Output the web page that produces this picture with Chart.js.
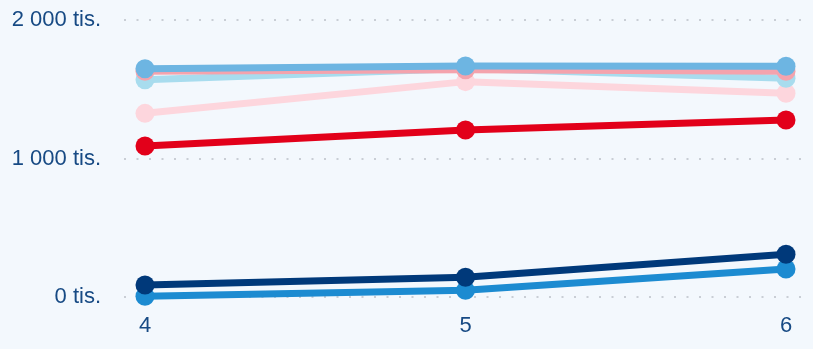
<!DOCTYPE html>
<html>
<head>
<meta charset="utf-8">
<script src="https://cdn.jsdelivr.net/npm/chart.js@4/dist/chart.umd.min.js"></script>
<style>
  html, body { margin: 0; padding: 0; background: #f3f8fd; }
  #wrap { width: 813px; height: 349px; }
</style>
</head>
<body>
<div id="wrap"><canvas id="c"></canvas></div>
<script>
// ================= DATA =================
const years = [4, 5, 6];
const yTicks = [0, 1000, 2000];

// first series is drawn on top
const seriesSky    = [1648, 1668, 1666];
const seriesSalmon = [1630, 1640, 1630];
const seriesCyan   = [1568, 1650, 1580];
const seriesBlush  = [1326, 1555, 1471];
const seriesRed    = [1090, 1206, 1278];
const seriesNavy   = [87, 142, 308];
const seriesBlue   = [5, 48, 202];

const colors = {
    sky: '#6db5e2',
    salmon: '#f4a3ad',
    cyan: '#a8dcee',
    blush: '#fdd6dd',
    red: '#e2001a',
    navy: '#00397a',
    blue: '#1c8bd1'
};

const textColor = '#174a84';

// ================= CHART =================
function line(values, color) {
    return {
        data: values.map((v, i) => ({ x: years[i], y: v })),
        borderColor: color,
        backgroundColor: color,
        borderWidth: 7,
        pointRadius: 9.5,
        pointBorderWidth: 0,
        pointHoverRadius: 9.5,
        tension: 0,
        clip: false
    };
}

// "2 000 tis."
function fmt(v) {
    return String(v).replace(/\B(?=(\d{3})+(?!\d))/g, ' ') + ' tis.';
}

const ctx = document.getElementById('c').getContext('2d');

new Chart(ctx, {
    type: 'line',
    data: {
        datasets: [
            line(seriesSky, colors.sky),
            line(seriesSalmon, colors.salmon),
            line(seriesCyan, colors.cyan),
            line(seriesBlush, colors.blush),
            line(seriesRed, colors.red),
            line(seriesNavy, colors.navy),
            line(seriesBlue, colors.blue)
        ]
    },
    options: {
        animation: false,
        responsive: true,
        maintainAspectRatio: false,
        // no extra room for point radius, the dots may overhang the plot area
        layout: { autoPadding: false, padding: { top: 20, right: 6, left: 0, bottom: 0 } },
        plugins: {
            legend: { display: false },
            tooltip: { enabled: false }
        },
        scales: {
            x: {
                type: 'linear',
                min: 3.9345,
                max: 6.0655,
                afterBuildTicks: (s) => { s.ticks = years.map(v => ({ value: v })); },
                afterFit: (s) => { s.height = 52; s.paddingLeft = 0; s.paddingRight = 0; },
                grid: { display: false, drawTicks: false },
                border: { display: false },
                ticks: {
                    padding: 16,
                    color: textColor,
                    font: { family: 'Liberation Sans, Arial, sans-serif', size: 22 },
                    callback: (v) => String(v)
                }
            },
            y: {
                min: 0,
                max: 2000,
                afterBuildTicks: (s) => { s.ticks = yTicks.map(v => ({ value: v })); },
                afterFit: (s) => { s.width = 124; s.paddingTop = 0; s.paddingBottom = 0; },
                grid: {
                    color: '#c9ced5',
                    lineWidth: 2,
                    drawTicks: false
                },
                border: { display: false, dash: [2, 10.5] },
                ticks: {
                    padding: 23,
                    color: textColor,
                    font: { family: 'Liberation Sans, Arial, sans-serif', size: 22 },
                    callback: fmt
                }
            }
        }
    }
});
</script>
</body>
</html>
